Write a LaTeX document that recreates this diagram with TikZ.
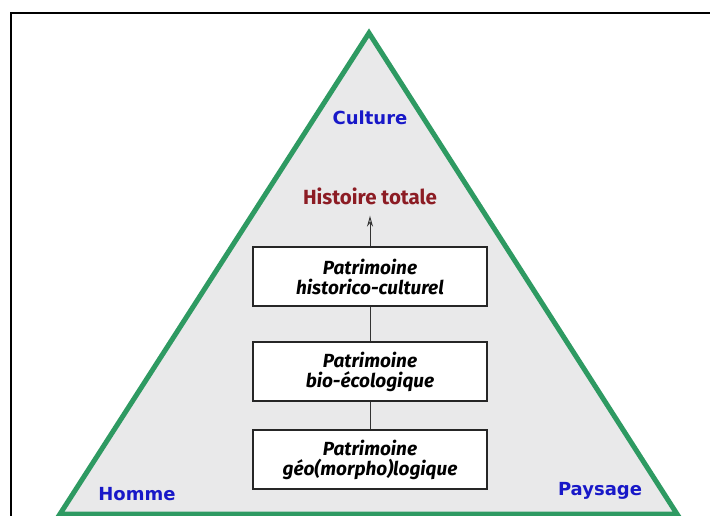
\documentclass[tikz,border=0pt]{standalone}
\usepackage{fontspec}
\setmainfont{DejaVu Sans}
\newfontfamily\boxfont{Fira Sans}
\usetikzlibrary{arrows.meta}
\definecolor{trigreen}{HTML}{2E9A62}
\definecolor{trifill}{HTML}{E9E9EA}
\definecolor{cornerblue}{HTML}{1818C8}
\definecolor{histred}{HTML}{8C1C24}
\tikzset{
  corner/.style={text=cornerblue, font=\fontsize{18}{20}\selectfont\bfseries, inner sep=0pt},
  patbox/.style={draw=black!85, line width=1.1pt, fill=white, minimum width=234pt, minimum height=59pt,
    align=center, font=\boxfont\fontsize{19}{20}\selectfont\bfseries\itshape, inner sep=0pt},
  link/.style={draw=black!80, line width=0.9pt}
}
\begin{document}
\begin{tikzpicture}[x=1pt,y=-1pt]
\useasboundingbox (0,0) rectangle (710,516);
\begin{scope}
\clip (0,0) rectangle (710,516);
\fill[white] (0,0) rectangle (710,516);
\draw[black, line width=1.6pt] (11,13) rectangle (730,540);
\coordinate (apex) at (369,33);
\coordinate (bl) at (60,514);
\coordinate (br) at (677,514);
\filldraw[fill=trifill, draw=trigreen, line width=5pt, line join=miter] (apex) -- (br) -- (bl) -- cycle;
\end{scope}
\node[corner] (culture) at (370,118) {Culture};
\node[corner] (homme) at (137,494) {Homme};
\node[corner] (paysage) at (600,491) {Paysage};
\node[text=histred, font=\boxfont\fontsize{20.5}{22}\selectfont\bfseries, inner sep=0pt] (hist) at (370,196) {Histoire totale};
\node[patbox] (b1) at (370,276.5) {Patrimoine\\historico-culturel};
\node[patbox] (b2) at (370,371.5) {Patrimoine\\bio-écologique};
\node[patbox] (b3) at (370,459.5) {Patrimoine\\géo(morpho)logique};
\draw[link] (b3) -- (b2);
\draw[link] (b2) -- (b1);
\draw[link, -{Stealth[length=11pt,width=6pt,open]}, shorten >=11pt] (b1.north) -- (hist.south);
\end{tikzpicture}
\end{document}
